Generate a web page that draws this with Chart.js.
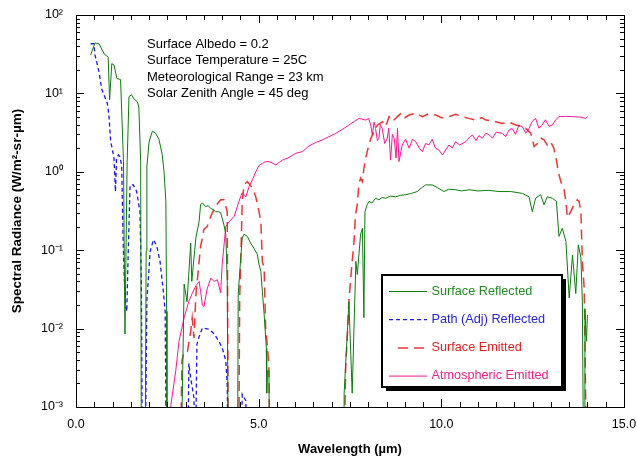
<!DOCTYPE html>
<html>
<head>
<meta charset="utf-8">
<script src="https://cdn.jsdelivr.net/npm/chart.js@4.4.1/dist/chart.umd.min.js"></script>
<style>
  body { margin: 0; background: #fff; }
  canvas { display: block; }
</style>
</head>
<body>
<canvas id="chart" width="637" height="459"></canvas>
<script>
/* Dados (comprimento de onda em µm, radiância) */
const reflectedWl = [0.40, 0.52, 0.63, 0.77, 0.88, 0.92, 0.98, 1.04, 1.12, 1.22, 1.30, 1.34, 1.40, 1.45, 1.52, 1.59, 1.68, 1.72, 1.77, 1.79, 1.89, 1.92, 1.94, 2.00, 2.09, 2.18, 2.27, 2.36, 2.41, 2.46, 2.48, 2.49,
  2.87, 2.96, 3.04, 3.14, 3.17, 3.28, 3.37, 3.41, 3.46, 3.55, 3.62, 3.69, 3.75, 3.82, 3.90, 3.96, 4.00, 4.05, 4.10, 4.14, 4.17,
  4.42, 4.44, 4.51, 4.55, 4.60, 4.69, 4.78, 4.87, 4.96, 5.01, 5.06, 5.10, 5.15, 5.21, 5.22, 5.24, 5.28, 5.30,
  7.33, 7.34, 7.47, 7.56, 7.66, 7.70, 7.79, 7.84, 7.88, 7.91, 7.97, 8.02, 8.10, 8.20, 8.29, 8.38, 8.48, 8.60, 8.75, 8.88, 9.02, 9.18, 9.34, 9.45, 9.57, 9.75, 9.89, 10.07, 10.20, 10.39, 10.55, 10.76, 11.00, 11.30, 11.58, 11.90, 12.22, 12.40, 12.49, 12.58, 12.72, 12.81, 12.90, 13.04, 13.15, 13.22, 13.31, 13.41, 13.50, 13.59, 13.68, 13.75, 13.82, 13.86, 13.88, 13.91, 13.93, 13.97, 14.00]
const reflectedVal = [31, 44, 43, 32, 29, 8.3, 24, 23, 15.5, 15, 1.35, 0.0085, 1.35, 9.1, 9.6, 8.5, 7.8, 6.7, 1.35, 0.0001, 0.0001, 0.097, 1.16, 2.4, 3.3, 3.1, 2.6, 1.66, 1.0, 0.42, 0.0166, 0.0001,
  0.0001, 0.037, 0.022, 0.123, 0.040, 0.143, 0.232, 0.383, 0.40, 0.36, 0.37, 0.34, 0.33, 0.31, 0.31, 0.30, 0.256, 0.21, 0.16, 0.040, 0.0001,
  0.0001, 0.0275, 0.08, 0.143, 0.16, 0.15, 0.123, 0.106, 0.089, 0.066, 0.054, 0.030, 0.0152, 0.0056, 0.0015, 0.0029, 0.0029, 0.0001,
  0.0001, 0.0015, 0.022, 0.0015, 0.072, 0.049, 0.16, 0.19, 0.0138, 0.31, 0.38, 0.42, 0.40, 0.46, 0.44, 0.47, 0.46, 0.49, 0.48, 0.50, 0.51, 0.53, 0.56, 0.62, 0.68, 0.68, 0.63, 0.56, 0.60, 0.59, 0.57, 0.59, 0.57, 0.58, 0.56, 0.56, 0.53, 0.48, 0.31, 0.46, 0.51, 0.38, 0.48, 0.46, 0.42, 0.15, 0.19, 0.13, 0.0245, 0.087, 0.028, 0.117, 0.08, 0.022, 0.0012, 0.0001, 0.018, 0.0069, 0.015]

const pathWl = [0.40, 0.49, 0.52, 0.63, 0.70, 0.77, 0.86, 0.90, 0.95, 0.99, 1.04, 1.08, 1.11, 1.16, 1.20, 1.25, 1.29, 1.34, 1.39, 1.43, 1.48, 1.57, 1.66, 1.75, 1.79, 1.82, 1.89, 1.94, 2.03, 2.12, 2.21, 2.30, 2.39, 2.44, 2.48,
  3.05, 3.09, 3.14, 3.18, 3.23, 3.26, 3.31, 3.37, 3.46, 3.55, 3.64, 3.78, 3.91, 4.00, 4.10, 4.14, 4.17, 4.52, 4.55, 4.65, 4.68]
const pathVal = [43, 43, 31, 18.8, 11.5, 9.5, 7.4, 5.3, 2.4, 2.0, 1.49, 0.56, 1.49, 1.64, 1.56, 1.22, 0.129, 0.0245, 0.0166, 0.097, 0.68, 0.68, 0.56, 0.31, 0.04, 0.0001, 0.0001, 0.0224, 0.097, 0.136, 0.113, 0.072, 0.030, 0.0166, 0.0001,
  0.0001, 0.0036, 0.0023, 0.0018, 0.0013, 0.0001, 0.0063, 0.0079, 0.0102, 0.0100, 0.0098, 0.0086, 0.0069, 0.0057, 0.0039, 0.0019, 0.0001, 0.0001, 0.00145, 0.0012, 0.0001]

const surfEmitWl = [2.44, 2.46, 2.48, 2.85, 2.90, 2.96, 3.05, 3.14, 3.18, 3.23, 3.28, 3.37, 3.41, 3.46, 3.50, 3.59, 3.69, 3.81, 3.96, 4.05, 4.14, 4.17,
  4.45, 4.48, 4.51, 4.55, 4.60, 4.69, 4.83, 4.92, 5.01, 5.06, 5.10, 5.15, 5.19, 5.24, 5.28, 5.32,
  7.33, 7.38, 7.43, 7.47, 7.52, 7.56, 7.61, 7.65, 7.70, 7.74, 7.79, 7.84, 7.88, 7.93, 7.97, 8.07, 8.16, 8.25, 8.39, 8.48, 8.57, 8.66, 8.75, 8.90, 9.00, 9.12, 9.30, 9.48, 9.65, 9.85, 10.00, 10.21, 10.40, 10.58, 10.75, 10.94, 11.10, 11.22, 11.49, 11.67, 11.85, 12.04, 12.20, 12.31, 12.45, 12.54, 12.63, 12.72, 12.81, 12.90, 12.99, 13.08, 13.15, 13.20, 13.27, 13.36, 13.41, 13.45, 13.54, 13.63, 13.72, 13.77, 13.82, 13.86, 13.91, 13.93, 13.95, 13.97]
const surfEmitVal = [0.0001, 0.0012, 0.0001, 0.0001, 0.0039, 0.0051, 0.0051, 0.0093, 0.0137, 0.0076, 0.026, 0.072, 0.112, 0.143, 0.184, 0.20, 0.27, 0.36, 0.44, 0.44, 0.31, 0.0001,
  0.0001, 0.0245, 0.072, 0.42, 0.68, 0.75, 0.62, 0.48, 0.31, 0.23, 0.072, 0.059, 0.0102, 0.006, 0.0032, 0.0001,
  0.0001, 0.0031, 0.0085, 0.0224, 0.044, 0.072, 0.129, 0.285, 0.38, 0.68, 0.83, 0.75, 1.11, 1.49, 1.81, 2.67, 3.24, 3.95, 4.36, 3.8, 5.05, 4.4, 4.8, 5.6, 4.9, 5.3, 5.6, 5.05, 5.5, 5.3, 4.9, 5.05, 5.4, 5.05, 4.8, 4.57, 4.9, 4.57, 4.36, 4.14, 4.3, 3.95, 3.8, 3.57, 3.09, 2.1, 2.3, 2.7, 2.55, 2.2, 2.42, 2.0, 1.41, 1.0, 0.75, 0.59, 0.42, 0.26, 0.31, 0.38, 0.44, 0.42, 0.31, 0.072, 0.033, 0.0085, 0.0012, 0.0001]

const atmEmitWl = [2.45, 2.59, 2.73, 2.82, 2.96, 3.09, 3.18, 3.28, 3.37, 3.41, 3.46, 3.50, 3.59, 3.69, 3.78, 3.87, 3.96, 4.00, 4.10, 4.19, 4.33, 4.46, 4.55, 4.65, 4.74, 4.83, 4.92, 5.01, 5.10, 5.19, 5.28, 5.37, 5.47, 5.56, 5.65, 5.80, 6.01, 6.20, 6.38, 6.55, 6.74, 6.92, 7.11, 7.30, 7.47, 7.62, 7.75, 7.93,
  8.01, 8.07, 8.11, 8.16, 8.20, 8.25, 8.29, 8.33, 8.38, 8.45, 8.52, 8.56, 8.61, 8.66, 8.71, 8.76, 8.80, 8.84, 8.93, 9.02, 9.12, 9.21, 9.30, 9.40, 9.48, 9.57, 9.66, 9.75, 9.84, 9.93, 10.03, 10.12, 10.21, 10.30, 10.39, 10.50, 10.67, 10.76, 10.85, 10.95, 11.03, 11.12, 11.22, 11.31, 11.40, 11.50, 11.67, 11.76, 11.85, 11.94, 12.03, 12.12, 12.22, 12.31, 12.40, 12.49, 12.58, 12.67, 12.76, 12.85, 12.95, 13.04, 13.13, 13.22, 13.40, 13.59, 13.80, 13.95, 14.00]
const atmEmitVal = [0.0001, 0.001, 0.0029, 0.0069, 0.0138, 0.0224, 0.028, 0.035, 0.040, 0.030, 0.020, 0.019, 0.032, 0.044, 0.040, 0.042, 0.0285, 0.065, 0.20, 0.23, 0.27, 0.42, 0.54, 0.48, 0.65, 0.79, 1.0, 1.20, 1.28, 1.35, 1.35, 1.30, 1.22, 1.32, 1.41, 1.50, 1.72, 1.81, 2.14, 2.35, 2.55, 2.8, 3.09, 3.5, 3.95, 4.4, 4.8, 4.57,
  4.8, 3.95, 2.95, 4.3, 3.57, 2.5, 2.67, 4.0, 3.57, 2.3, 2.67, 3.6, 1.41, 3.0, 2.67, 1.5, 3.57, 1.35, 2.2, 2.6, 2.0, 2.6, 2.42, 2.0, 1.81, 2.3, 2.2, 2.6, 2.0, 1.9, 1.64, 1.9, 2.2, 2.0, 2.42, 2.2, 2.42, 2.7, 2.95, 2.5, 2.9, 2.67, 3.1, 2.95, 2.7, 3.2, 3.09, 2.8, 3.4, 3.57, 3.0, 3.9, 3.75, 3.1, 3.57, 4.4, 4.8, 3.6, 3.95, 4.6, 3.8, 3.95, 4.6, 5.05, 5.1, 5.05, 5.0, 4.8, 5.05]

const seriesLabels = ['Surface Reflected', 'Path (Adj) Reflected', 'Surface Emitted', 'Atmospheric Emitted']
const yTicks = [0.001, 0.01, 0.1, 1, 10, 100]
const xTicks = [0, 5, 10, 15]
const notes = ['Surface Albedo = 0.2', 'Surface Temperature = 25C', 'Meteorological Range = 23 km', 'Solar Zenith Angle = 45 deg']

const FONT = "Arial, 'Liberation Sans', Helvetica, sans-serif"
const supDigits = { '-': '\u207B', '0': '\u2070', '1': '\u00B9', '2': '\u00B2', '3': '\u00B3' }

function toPoints(wl, val) {
    return wl.map((x, i) => ({ x: x, y: val[i] }))
}

// Moldura e marcas internas nos quatro lados
const framePlugin = {
    id: 'frame',
    afterDatasetsDraw(chart) {
        const { ctx, chartArea: a, scales: { x, y } } = chart
        ctx.save()
        ctx.strokeStyle = '#000'
        ctx.lineWidth = 1
        ctx.strokeRect(Math.round(a.left) + 0.5, Math.round(a.top) + 0.5, Math.round(a.right - a.left), Math.round(a.bottom - a.top))
        ctx.beginPath()
        for (let v = 0; v <= 15; v += 0.5) {
            const px = Math.round(x.getPixelForValue(v)) + 0.5
            const len = v % 5 === 0 ? 8 : 5
            ctx.moveTo(px, a.bottom); ctx.lineTo(px, a.bottom - len)
            ctx.moveTo(px, a.top); ctx.lineTo(px, a.top + len)
        }
        for (let e = -3; e <= 2; e++) {
            for (let m = 1; m <= 9; m++) {
                if (e === 2 && m > 1) break
                const py = Math.round(y.getPixelForValue(m * Math.pow(10, e))) + 0.5
                const len = m === 1 ? 8 : 4
                ctx.moveTo(a.left, py); ctx.lineTo(a.left + len, py)
                ctx.moveTo(a.right, py); ctx.lineTo(a.right - len, py)
            }
        }
        ctx.stroke()
        ctx.restore()
    }
}

// Texto com as condições da simulação
const notesPlugin = {
    id: 'notes',
    afterDraw(chart) {
        const ctx = chart.ctx
        ctx.save()
        ctx.fillStyle = '#000'
        ctx.font = '13px ' + FONT
        ctx.textBaseline = 'middle'
        notes.forEach((line, i) => ctx.fillText(line, 147, 44.5 + i * 16.4))
        ctx.restore()
    }
}

// Legenda em caixa com sombra
const legendBoxPlugin = {
    id: 'legendBox',
    afterDraw(chart) {
        const ctx = chart.ctx
        const bx = 382, by = 275, bw = 180, bh = 112
        ctx.save()
        ctx.fillStyle = '#000'
        ctx.fillRect(bx + 4, by + 4, bw, bh)
        ctx.fillStyle = '#fff'
        ctx.fillRect(bx, by, bw, bh)
        ctx.strokeStyle = '#000'
        ctx.lineWidth = 2
        ctx.strokeRect(bx, by, bw, bh)
        ctx.font = '12.7px ' + FONT
        ctx.textBaseline = 'middle'
        chart.data.datasets.forEach((ds, i) => {
            const ly = 291 + i * 28.2
            ctx.strokeStyle = ds.borderColor
            ctx.lineWidth = ds.borderWidth
            ctx.setLineDash(ds.borderDash || [])
            ctx.beginPath()
            const start = ds.borderDash && ds.borderDash[0] > 6 ? 398 : 389
            ctx.moveTo(start, ly + 0.5)
            ctx.lineTo(427, ly + 0.5)
            ctx.stroke()
            ctx.setLineDash([])
            ctx.fillStyle = ds.textColor
            ctx.fillText(ds.label, 431.5, ly)
        })
        ctx.restore()
    }
}

const ctx = document.getElementById('chart').getContext('2d')
new Chart(ctx, {
    type: 'line',
    data: {
        datasets: [
            {
                label: seriesLabels[0],
                data: toPoints(reflectedWl, reflectedVal),
                borderColor: '#0b7d0b', textColor: '#1f8f1f',
                borderWidth: 1
            },
            {
                label: seriesLabels[1],
                data: toPoints(pathWl, pathVal),
                borderColor: '#1a1aee', textColor: '#2424e0',
                borderWidth: 1.3, borderDash: [4, 3]
            },
            {
                label: seriesLabels[2],
                data: toPoints(surfEmitWl, surfEmitVal),
                borderColor: 'rgba(240, 30, 30, 0.9)', textColor: '#e42020',
                borderWidth: 1.5, borderDash: [10, 6]
            },
            {
                label: seriesLabels[3],
                data: toPoints(atmEmitWl, atmEmitVal),
                borderColor: '#ff1493', textColor: '#f0208a',
                borderWidth: 1
            }
        ]
    },
    options: {
        responsive: false,
        animation: false,
        elements: { point: { radius: 0 }, line: { tension: 0 } },
        layout: { padding: { top: 15, right: 13, left: 0, bottom: 0 } },
        scales: {
            x: {
                type: 'linear', min: 0, max: 15,
                afterBuildTicks: s => { s.ticks = xTicks.map(v => ({ value: v })) },
                afterFit: s => { s.height = 52; s.paddingLeft = 0; s.paddingRight = 0 },
                grid: { display: false, drawTicks: false },
                border: { display: false },
                ticks: { color: '#000', font: { family: FONT, size: 12.5 }, padding: 10, maxRotation: 0,
                    callback: v => Number(v).toFixed(1) },
                title: { display: true, text: 'Wavelength (µm)', color: '#000',
                    font: { family: FONT, size: 13, weight: 'bold' }, padding: { top: 0, bottom: 2 } }
            },
            y: {
                type: 'logarithmic', min: 0.001, max: 100,
                afterBuildTicks: s => { s.ticks = yTicks.map(v => ({ value: v })) },
                afterFit: s => { s.width = 76; s.paddingTop = 0; s.paddingBottom = 0 },
                grid: { display: false, drawTicks: false },
                border: { display: false },
                ticks: { color: '#000', font: { family: FONT, size: 12.5 }, padding: 13,
                    callback: v => '10' + String(Math.round(Math.log10(v))).split('').map(c => supDigits[c]).join('') },
                title: { display: true, text: 'Spectral Radiance (W/m²-sr-µm)', color: '#000',
                    font: { family: FONT, size: 13.5, weight: 'bold' }, padding: { top: 9, bottom: 0 } }
            }
        },
        plugins: { legend: { display: false }, tooltip: { enabled: false } }
    },
    plugins: [framePlugin, notesPlugin, legendBoxPlugin]
})
</script>
</body>
</html>
